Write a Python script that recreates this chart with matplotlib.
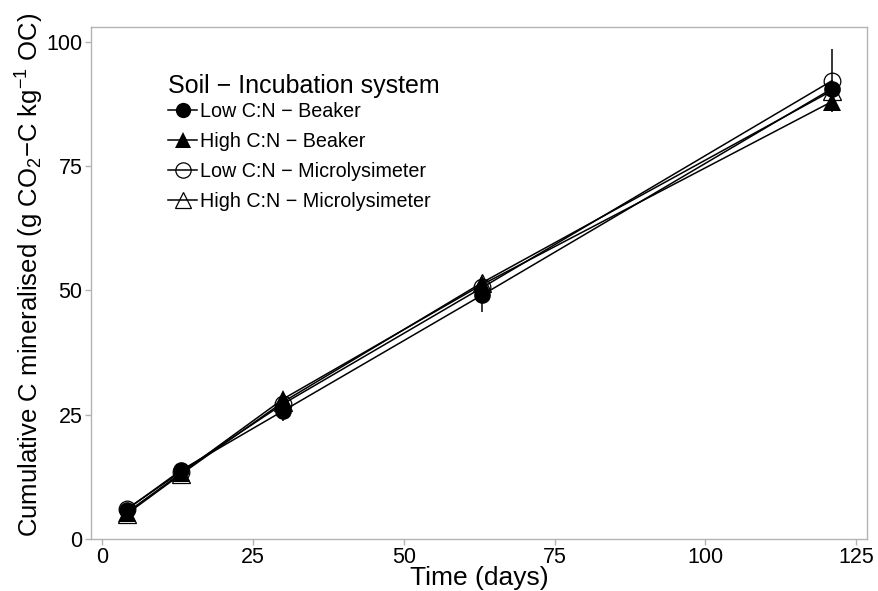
import matplotlib
matplotlib.use("Agg")
import matplotlib.pyplot as plt
from matplotlib.lines import Line2D

plt.rcParams['font.family'] = ['Liberation Sans', 'DejaVu Sans']
plt.rcParams['mathtext.fontset'] = 'custom'
plt.rcParams['mathtext.rm'] = 'Liberation Sans'
plt.rcParams['mathtext.it'] = 'Liberation Sans'

days = [4, 13, 30, 63, 121]
series_names = ["Low C:N \u2212 Beaker", "High C:N \u2212 Beaker",
                "Low C:N \u2212 Microlysimeter", "High C:N \u2212 Microlysimeter"]
low_beaker = [5.9, 13.8, 25.8, 49.1, 90.6]
high_beaker = [5.3, 13.2, 28.2, 51.2, 88.0]
low_micro = [6.0, 13.5, 27.2, 50.6, 92.2]
high_micro = [5.0, 13.0, 27.6, 51.6, 90.2]
err_low_beaker = [0.5, 0.6, 2.0, 3.5, 1.0]
err_high_beaker = [0.4, 0.5, 0.8, 1.0, 1.5]
err_low_micro = [0.4, 0.5, 0.8, 1.0, 6.4]
err_high_micro = [0.4, 0.5, 0.8, 1.0, 1.0]

fig = plt.figure(figsize=(8.79, 5.91), dpi=100)
ax = fig.add_axes([91/879, 1-539/591, (867-91)/879, (539-27)/591])

styles = [
    dict(marker='o', ms=12, mfc='black', mec='black', mew=0),
    dict(marker='^', ms=13, mfc='black', mec='black', mew=0),
    dict(marker='o', ms=12, mfc='none', mec='black', mew=0.9),
    dict(marker='^', ms=13, mfc='none', mec='black', mew=0.9),
]
data = [low_beaker, high_beaker, low_micro, high_micro]
errs = [err_low_beaker, err_high_beaker, err_low_micro, err_high_micro]

handles = []
for name, y, e, st in zip(series_names, data, errs, styles):
    ax.errorbar(days, y, yerr=e, fmt='none', ecolor='black', elinewidth=1.1, capsize=0, zorder=2)
    ax.plot(days, y, color='black', lw=1.1, zorder=3, **st)
    hst = dict(st)
    hst['ms'] = st['ms'] - 1
    handles.append(Line2D([], [], color='black', lw=1.1, **hst))

ax.set_xlim(-1.9, 126.8)
ax.set_ylim(0, 103)
ax.set_xticks([0, 25, 50, 75, 100, 125])
ax.set_yticks([0, 25, 50, 75, 100])
for s in ax.spines.values():
    s.set_color('#b3b3b3')
    s.set_linewidth(1.0)
ax.tick_params(axis='both', colors='#b3b3b3', labelcolor='black', labelsize=15.5, length=4, width=1, pad=2)
ax.set_xlabel('Time (days)', fontsize=19, labelpad=-2)
ax.set_ylabel(r'Cumulative C mineralised (g CO$_2$$-$C kg$^{-1}$ OC)', fontsize=18.5, labelpad=4)
ax.yaxis.set_label_coords(-0.058, 0.516)

leg = fig.legend(handles=handles, labels=series_names, title='Soil \u2212 Incubation system',
                 loc='upper left', bbox_to_anchor=(160/879, 1-66/591), frameon=False,
                 fontsize=14.2, title_fontsize=18, handlelength=1.5, handletextpad=0.15,
                 labelspacing=0.55, borderaxespad=0)
leg._legend_box.align = 'left'
leg._legend_box.sep = 3

fig.savefig('out.png', dpi=100)
